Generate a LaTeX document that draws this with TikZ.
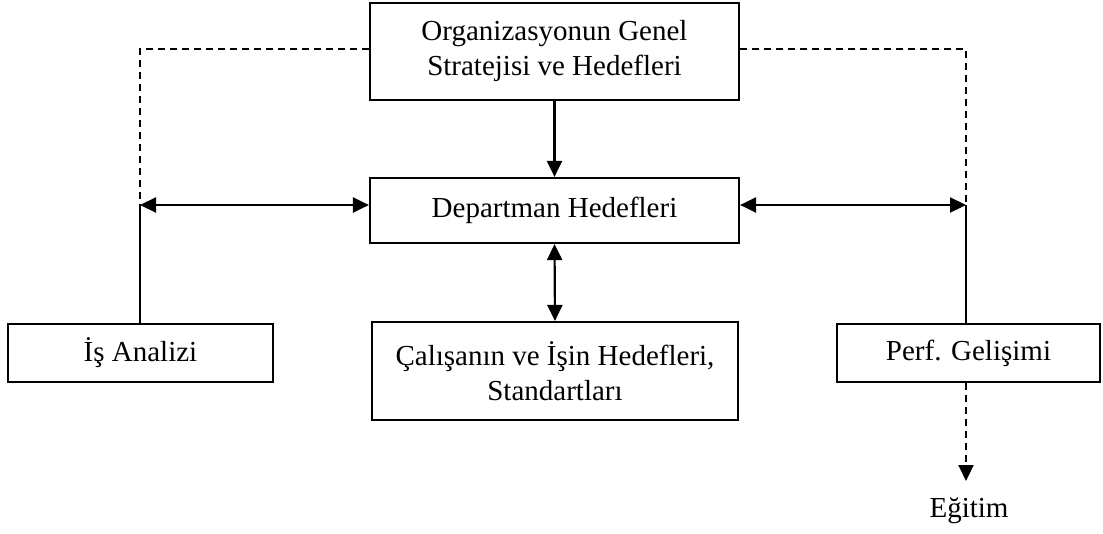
\documentclass[tikz,border=0pt]{standalone}
\usepackage{fontspec}
\setmainfont{Liberation Serif}
\usetikzlibrary{arrows.meta}
\begin{document}
\begin{tikzpicture}[x=1pt,y=-1pt,
  box/.style={draw, line width=2.2pt, inner sep=0pt, align=center,
    font=\fontsize{29}{35}\selectfont},
  lbl/.style={inner sep=0pt, font=\fontsize{29}{35}\selectfont},
  link/.style={line width=2.2pt},
  dotlink/.style={line width=2.2pt, dash pattern=on 7pt off 5pt},
  tip/.style={-{Triangle[length=16pt,width=15pt]}},
  tips/.style={{Triangle[length=16pt,width=15pt]}-{Triangle[length=16pt,width=15pt]}}]
\useasboundingbox (0,0) rectangle (1103,533);

% boxes
\node[box, minimum width=369pt, minimum height=97pt] (org) at (554.5,51.5)
  {Organizasyonun Genel\\Stratejisi ve Hedefleri};
\node[box, minimum width=369pt, minimum height=65pt] (dept) at (554.5,210.5)
  {Departman Hedefleri};
\node[box, minimum width=366pt, minimum height=98pt] (calis) at (555,371)
  {Çalışanın ve İşin Hedefleri,\\Standartları};
\node[box, minimum width=265pt, minimum height=58pt] (is) at (140.5,353)
  {İş Analizi};
\node[box, minimum width=263pt, minimum height=58pt] (perf) at (968.5,353)
  {Perf. Gelişimi};
\node[lbl] (egitim) at (969,511) {Eğitim};

% junction points
\coordinate (jl) at (140,205);
\coordinate (jr) at (966,205);
\coordinate (tl) at (140,49);
\coordinate (tr) at (966,49);

% dashed feedback from the strategy box
\draw[dotlink] (org.west |- tl) -- (tl) -- (jl);
\draw[dotlink] (org.east |- tr) -- (tr) -- (jr);

% solid links
\draw[link, tip] (org.south) -- (dept.north);
\draw[link, tips] (jl) -- (jl -| dept.west);
\draw[link, tips] (jr -| dept.east) -- (jr);
\draw[link, tips] (dept.south) -- (calis.north);
\draw[link] (jl) -- (jl |- is.north);
\draw[link] (jr) -- (jr |- perf.north);

% training
\draw[dotlink, tip] (perf.south -| jr) -- (966,481) coordinate (eg);
\end{tikzpicture}
\end{document}
